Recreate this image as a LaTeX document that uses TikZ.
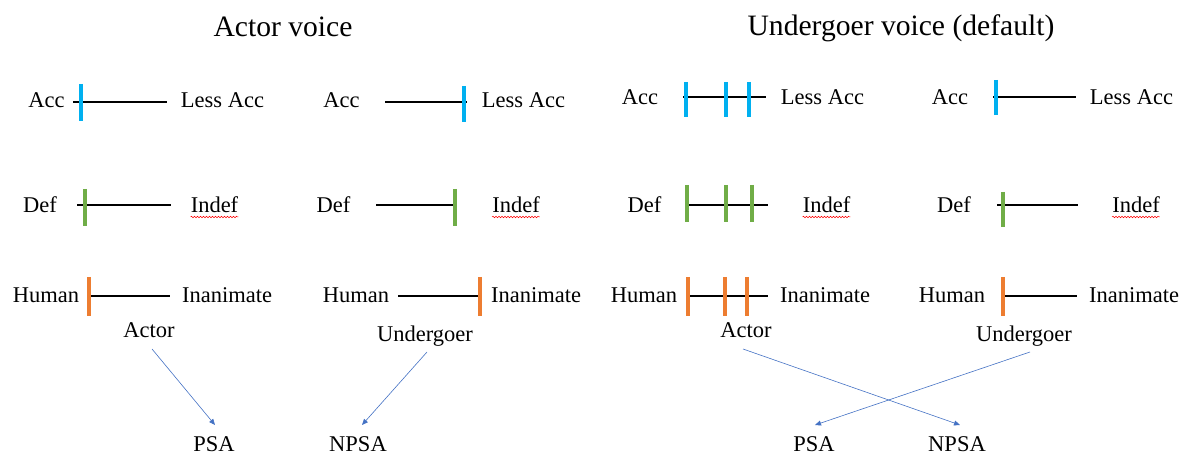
\documentclass[tikz,border=0pt]{standalone}
\usepackage{fontspec}
\setmainfont{Liberation Serif}
\usetikzlibrary{arrows.meta,decorations.pathmorphing}
\definecolor{tblue}{HTML}{00B0F0}
\definecolor{tgreen}{HTML}{70AD47}
\definecolor{torange}{HTML}{ED7D31}
\definecolor{ablue}{HTML}{4472C4}
\begin{document}
\begin{tikzpicture}[x=1pt,y=-1pt,
  lbl/.style={anchor=base,inner sep=0pt,font=\fontsize{22.5}{27}\selectfont},
  ttl/.style={anchor=base,inner sep=0pt,font=\fontsize{29.6}{35}\selectfont},
  scl/.style={line width=1.5pt,black},
  tk/.style={line width=3.5pt},
  conn/.style={draw=ablue,line width=0.6pt,-{Triangle[width=5pt,length=6pt]}},
  spell/.style={draw=red,line width=0.5pt,decorate,decoration={snake,amplitude=0.7pt,segment length=3pt}}]
\useasboundingbox (0,0) rectangle (1187,454);
% titles
\node[ttl] (t1) at (283,37) {Actor voice};
\node[ttl] (t2) at (901,36) {Undergoer voice (default)};
% ---------- Row 1 ----------
\node[lbl] (acc1) at (46.5,108) {Acc};
\node[lbl] (lacc1) at (222.5,108) {Less Acc};
\coordinate (a1l) at (73,102); \coordinate (a1r) at (167,102);
\draw[scl] (a1l) -- (a1r);
\draw[tk,tblue] (81,84) -- (81,121);

\node[lbl] (acc2) at (341.5,108) {Acc};
\node[lbl] (lacc2) at (523.5,108) {Less Acc};
\coordinate (a2l) at (385,102); \coordinate (a2r) at (467,102);
\draw[scl] (a2l) -- (a2r);
\draw[tk,tblue] (464,86) -- (464,122);

\node[lbl] (acc3) at (640,105) {Acc};
\node[lbl] (lacc3) at (822.5,105) {Less Acc};
\coordinate (a3l) at (683,97); \coordinate (a3r) at (766,97);
\draw[scl] (a3l) -- (a3r);
\foreach \x in {686,726,749} \draw[tk,tblue] (\x,82) -- (\x,117);

\node[lbl] (acc4) at (950,105) {Acc};
\node[lbl] (lacc4) at (1131.5,105) {Less Acc};
\coordinate (a4l) at (993,97); \coordinate (a4r) at (1076,97);
\draw[scl] (a4l) -- (a4r);
\draw[tk,tblue] (996,80) -- (996,115);
% ---------- Row 2 ----------
\node[lbl] (def1) at (40,213) {Def};
\node[lbl] (ind1) at (214.5,213) {Indef};
\coordinate (d1l) at (77,205); \coordinate (d1r) at (171,205);
\draw[scl] (d1l) -- (d1r);
\draw[tk,tgreen] (85,189) -- (85,226);

\node[lbl] (def2) at (333.5,213) {Def};
\node[lbl] (ind2) at (516,213) {Indef};
\coordinate (d2l) at (376,205); \coordinate (d2r) at (457,205);
\draw[scl] (d2l) -- (d2r);
\draw[tk,tgreen] (455,189) -- (455,226);

\node[lbl] (def3) at (644.5,213) {Def};
\node[lbl] (ind3) at (826.5,213) {Indef};
\coordinate (d3l) at (685,205); \coordinate (d3r) at (768,205);
\draw[scl] (d3l) -- (d3r);
\foreach \x in {687,726,752} \draw[tk,tgreen] (\x,185) -- (\x,222);

\node[lbl] (def4) at (954,213) {Def};
\node[lbl] (ind4) at (1136,213) {Indef};
\coordinate (d4l) at (997,205); \coordinate (d4r) at (1078,205);
\draw[scl] (d4l) -- (d4r);
\draw[tk,tgreen] (1003,192) -- (1003,227);

\foreach \n in {ind1,ind2,ind3,ind4}
  \draw[spell] ([yshift=-4pt]\n.base west) -- ([yshift=-4pt]\n.base east);
% ---------- Row 3 ----------
\node[lbl] (hum1) at (46,303) {Human};
\node[lbl] (ina1) at (227,303) {Inanimate};
\coordinate (h1l) at (89,296); \coordinate (h1r) at (170,296);
\draw[scl] (h1l) -- (h1r);
\draw[tk,torange] (89,277) -- (89,316);

\node[lbl] (hum2) at (356,303) {Human};
\node[lbl] (ina2) at (536,303) {Inanimate};
\coordinate (h2l) at (398,296); \coordinate (h2r) at (480,296);
\draw[scl] (h2l) -- (h2r);
\draw[tk,torange] (480,277) -- (480,316);

\node[lbl] (hum3) at (644,303) {Human};
\node[lbl] (ina3) at (825,303) {Inanimate};
\coordinate (h3l) at (686,296); \coordinate (h3r) at (768,296);
\draw[scl] (h3l) -- (h3r);
\foreach \x in {688,725,747} \draw[tk,torange] (\x,277) -- (\x,316);

\node[lbl] (hum4) at (952,303) {Human};
\node[lbl] (ina4) at (1134,303) {Inanimate};
\coordinate (h4l) at (1003,296); \coordinate (h4r) at (1077,296);
\draw[scl] (h4l) -- (h4r);
\draw[tk,torange] (1003,277) -- (1003,316);
% ---------- roles ----------
\node[lbl] (act1) at (149,338) {Actor};
\node[lbl] (und1) at (425,342) {Undergoer};
\node[lbl] (act2) at (746,338) {Actor};
\node[lbl] (und2) at (1024,342) {Undergoer};
\node[lbl] (psa1) at (214,451) {PSA};
\node[lbl] (npsa1) at (358,451) {NPSA};
\node[lbl] (psa2) at (814,451) {PSA};
\node[lbl] (npsa2) at (957,451) {NPSA};
% ---------- connectors ----------
\draw[conn] ([shift={(3pt,-11pt)}]act1.base) -- ([shift={(1pt,26pt)}]psa1.base);
\draw[conn] ([shift={(2pt,-10pt)}]und1.base) -- ([shift={(4pt,26pt)}]npsa1.base);
\draw[conn] ([shift={(-3pt,-11pt)}]act2.base) -- ([shift={(3pt,26pt)}]npsa2.base);
\draw[conn] ([shift={(6pt,-10pt)}]und2.base) -- ([shift={(1pt,26pt)}]psa2.base);
\end{tikzpicture}
\end{document}
